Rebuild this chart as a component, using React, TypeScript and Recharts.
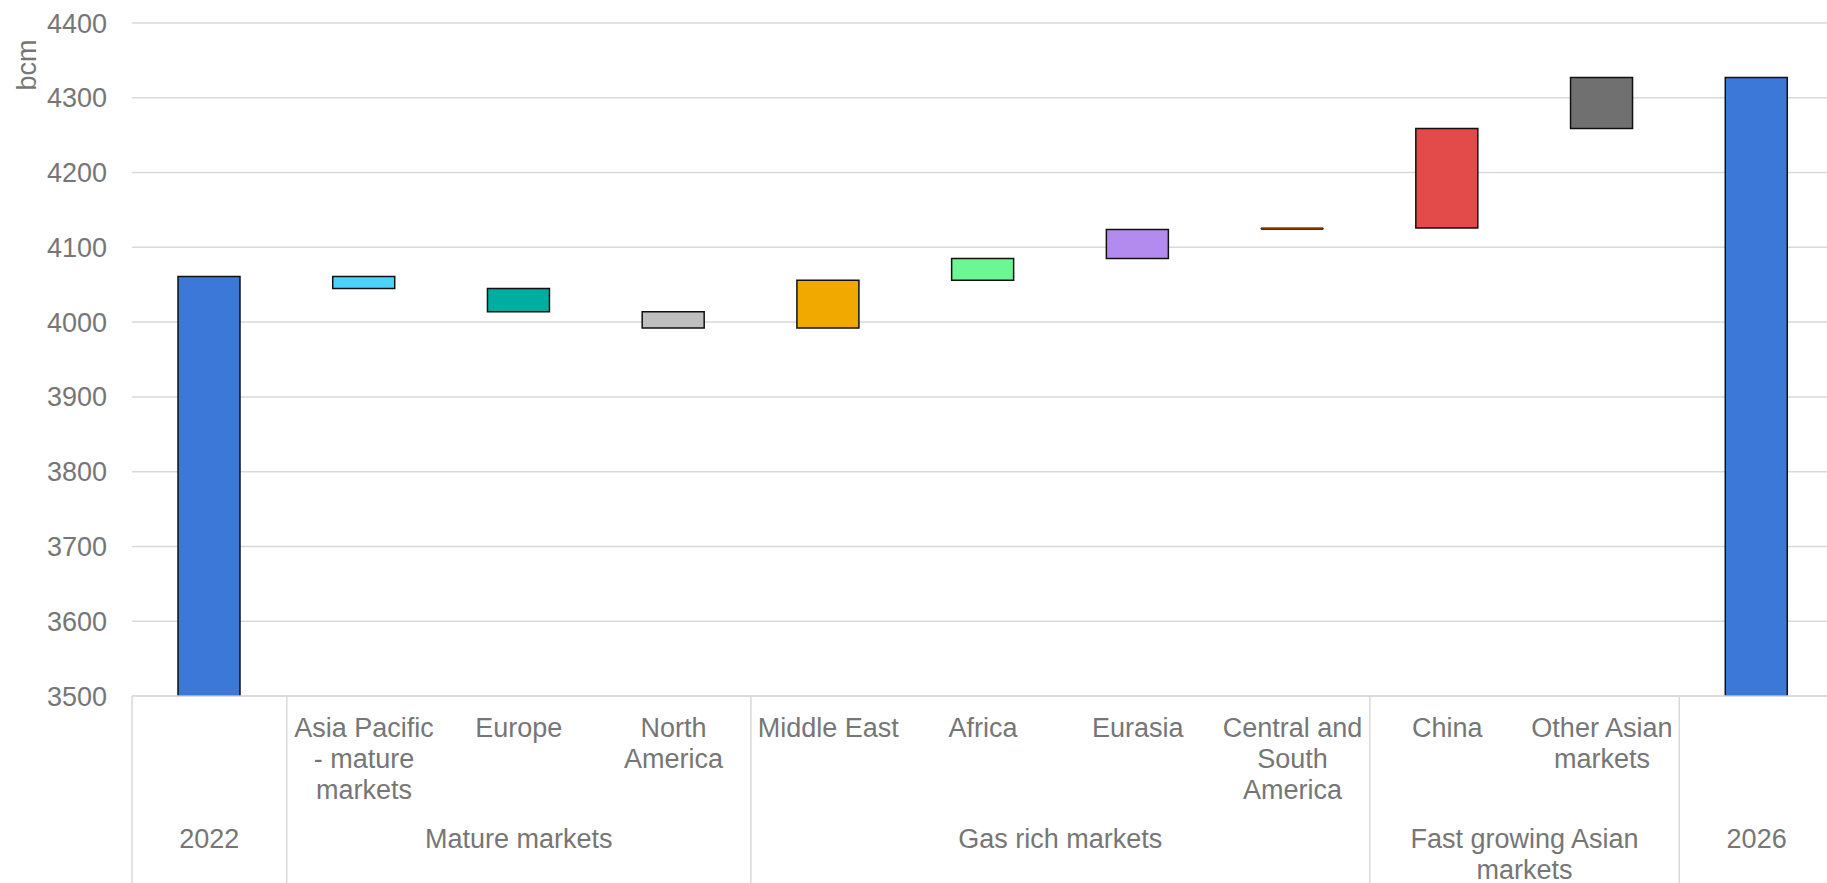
import React from 'react';
import { BarChart, Bar, Cell, XAxis, YAxis, CartesianGrid } from 'recharts';

// categories along the x axis, with the wrapped label each one shows
const categories = [
  '2022',
  'Asia Pacific - mature markets',
  'Europe',
  'North America',
  'Middle East',
  'Africa',
  'Eurasia',
  'Central and South America',
  'China',
  'Other Asian markets',
  '2026',
];
const tickLines: string[][] = [
  [],
  ['Asia Pacific', '- mature', 'markets'],
  ['Europe'],
  ['North', 'America'],
  ['Middle East'],
  ['Africa'],
  ['Eurasia'],
  ['Central and', 'South', 'America'],
  ['China'],
  ['Other Asian', 'markets'],
  [],
];

// bcm
const startValue = 4061;
const changes = [-16, -31, -22, 64, 29, 39, 2, 133, 68];
const endValue = 4327;

const colors = [
  '#3c78d8',
  '#4dd2fc',
  '#00ada0',
  '#bfbfbf',
  '#f1a900',
  '#6af794',
  '#b38aee',
  '#c55a11',
  '#e34a4a',
  '#6f706f',
  '#3c78d8',
];

const groups = [
  { lines: ['2022'], span: 1 },
  { lines: ['Mature markets'], span: 3 },
  { lines: ['Gas rich markets'], span: 4 },
  { lines: ['Fast growing Asian', 'markets'], span: 2 },
  { lines: ['2026'], span: 1 },
];

const yTicks = [3500, 3600, 3700, 3800, 3900, 4000, 4100, 4200, 4300, 4400];

const CHART_W = 1834;
const CHART_H = 883;
const YAXIS_W = 132;
const XAXIS_H = 187;
const BAND = (CHART_W - YAXIS_W) / categories.length;
const TEXT = '#767676';
const GRID = '#d9d9d9';
const FONT = 27;

let level = startValue;
const data = categories.map((name, i) => {
  if (i === 0) return { name, value: startValue as number | number[] };
  if (i === categories.length - 1) return { name, value: endValue as number | number[] };
  const from = level;
  level += changes[i - 1];
  return { name, value: [Math.min(from, level), Math.max(from, level)] };
});

let pos = 0;
const groupStarts = groups.map((g) => {
  const s = { ...g, start: pos };
  pos += g.span;
  return s;
});

function CategoryTick(props: any) {
  const { x, y, index } = props;
  const lines = tickLines[index] ?? [];
  const grp = groupStarts.find((g) => g.start === index);
  const left = x - BAND / 2;
  return (
    <g>
      {lines.map((t, k) => (
        <text key={k} x={x} y={y + 41 + k * 31} textAnchor="middle" fill={TEXT} fontSize={FONT}>
          {t}
        </text>
      ))}
      {grp && (
        <>
          <line x1={left} x2={left} y1={y} y2={y + XAXIS_H} stroke={GRID} strokeWidth={1.5} />
          {grp.lines.map((t, k) => (
            <text
              key={'g' + k}
              x={left + (grp.span * BAND) / 2}
              y={y + 152 + k * 31}
              textAnchor="middle"
              fill={TEXT}
              fontSize={FONT}
            >
              {t}
            </text>
          ))}
        </>
      )}
    </g>
  );
}

function AxisTitle(props: any) {
  const vb = props.viewBox ?? { x: 0, y: 23 };
  return (
    <text
      transform={`translate(${vb.x + 36},${vb.y + 42}) rotate(-90)`}
      textAnchor="middle"
      fill={TEXT}
      fontSize={FONT}
    >
      bcm
    </text>
  );
}

export default function App() {
  return (
    <div
      style={{
        position: 'absolute',
        left: 0,
        top: 0,
        width: 1827,
        height: CHART_H,
        overflow: 'hidden',
        background: '#fff',
        fontFamily: '"Liberation Sans", Arial, sans-serif',
      }}
    >
      <BarChart
        width={CHART_W}
        height={CHART_H}
        data={data}
        margin={{ top: 23, right: 0, bottom: 0, left: 0 }}
      >
        <CartesianGrid vertical={false} stroke={GRID} strokeWidth={1.5} />
        <XAxis
          dataKey="name"
          interval={0}
          height={XAXIS_H}
          tickLine={false}
          tickSize={0}
          tickMargin={0}
          axisLine={{ stroke: GRID, strokeWidth: 1.5 }}
          tick={<CategoryTick />}
        />
        <YAxis
          width={YAXIS_W}
          domain={[3500, 4400]}
          ticks={yTicks}
          interval={0}
          allowDataOverflow
          axisLine={false}
          tickLine={false}
          tickSize={0}
          tickMargin={25}
          tick={{ fill: TEXT, fontSize: FONT }}
          label={<AxisTitle />}
        />
        <Bar dataKey="value" barSize={62} stroke="#111" strokeWidth={1.5} isAnimationActive={false}>
          {data.map((d, i) => {
            const thin = Array.isArray(d.value) && d.value[1] - d.value[0] < 5;
            return (
              <Cell
                key={d.name}
                fill={colors[i]}
                stroke={thin ? '#3a1a05' : '#111'}
                strokeWidth={thin ? 1 : 1.5}
              />
            );
          })}
        </Bar>
      </BarChart>
    </div>
  );
}
